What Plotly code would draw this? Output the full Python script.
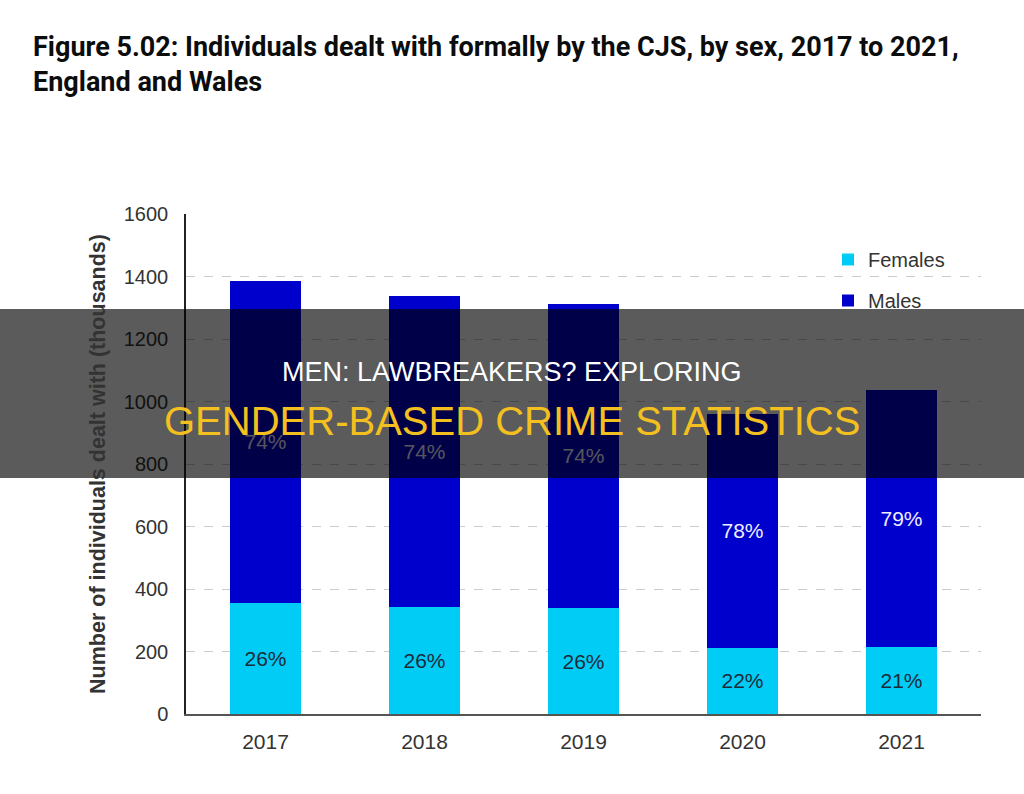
import plotly.graph_objects as go

years = ["2017", "2018", "2019", "2020", "2021"]
females = [356, 343, 339, 212, 215]
males = [1032, 997, 975, 750, 824]
female_pct = ["26%", "26%", "26%", "22%", "21%"]
male_pct = ["74%", "74%", "74%", "78%", "79%"]
y_ticks = [0, 200, 400, 600, 800, 1000, 1200, 1400, 1600]

FONT = "Liberation Sans, Arial, sans-serif"
W, H = 1024, 794
L, R, T, B = 186, 43, 214, 80
pw, ph = W - L - R, H - T - B

def px_x(x):
    return (x - L) / pw

def px_y(y):
    return (H - B - y) / ph

fig = go.Figure()
fig.add_trace(go.Bar(
    x=years, y=females, name="Females", legendgroup="f",
    marker=dict(color="#00CCF5", line=dict(width=0)),
    text=female_pct, textposition="inside", insidetextanchor="middle",
    textangle=0, constraintext="none",
    textfont=dict(family=FONT, size=21, color="#1c2a3a"),
))
fig.add_trace(go.Bar(
    x=years, y=males, name="Males", legendgroup="m",
    marker=dict(color="#0000CD", line=dict(width=0)),
    text=male_pct, textposition="inside", insidetextanchor="middle",
    textangle=0, constraintext="none",
    textfont=dict(family=FONT, size=21, color="#EEEEFF"),
))

fig.update_layout(
    width=W, height=H,
    margin=dict(l=L, r=R, t=T, b=B, autoexpand=False),
    paper_bgcolor="white", plot_bgcolor="white",
    barmode="stack", bargap=0.55,
    font=dict(family=FONT, color="#333333"),
    title=dict(
        text="<b>Figure 5.02: Individuals dealt with formally by the CJS, by sex, 2017 to 2021,<br>England and Wales</b>",
        xref="container", yref="container", x=33 / W, xanchor="left",
        y=1 - 56 / H, yanchor="top",
        font=dict(family="Roboto, Arial, sans-serif", size=27, color="#0b0c0c"),
    ),
    legend=dict(
        x=px_x(828), y=px_y(240), xanchor="left", yanchor="top",
        traceorder="grouped", tracegroupgap=12,
        font=dict(family=FONT, size=20, color="#333333"),
        bgcolor="rgba(0,0,0,0)", itemwidth=30,
    ),
    showlegend=True,
)

fig.update_xaxes(
    showline=True, linecolor="#555555", linewidth=1.5,
    ticks="", ticklabelstandoff=8,
    tickfont=dict(family=FONT, size=21, color="#333333"),
    showgrid=False,
)
fig.update_yaxes(
    range=[0, 1601], tickvals=y_ticks,
    showline=True, linecolor="#222222", linewidth=1.5,
    ticks="", ticklabelstandoff=12,
    tickfont=dict(family=FONT, size=20, color="#333333"),
    showgrid=True, gridcolor="#cccccc", griddash="dash", gridwidth=1,
    zeroline=False,
    title=dict(text="<b>Number of individuals dealt with (thousands)</b>",
               font=dict(family=FONT, size=21.5, color="#333333"), standoff=12),
)

# Dark overlay band with headline
fig.add_shape(type="rect", xref="paper", yref="paper",
              x0=px_x(-5), x1=px_x(W + 5), y0=px_y(478), y1=px_y(309),
              fillcolor="rgba(0,0,0,0.645)", line=dict(width=0), layer="above")
fig.add_annotation(text="MEN: LAWBREAKERS? EXPLORING", xref="paper", yref="paper",
                   x=px_x(512), y=px_y(372), showarrow=False,
                   xanchor="center", yanchor="middle",
                   font=dict(family=FONT, size=27, color="#FFFFFF"))
fig.add_annotation(text="GENDER-BASED CRIME STATISTICS", xref="paper", yref="paper",
                   x=px_x(512), y=px_y(421), showarrow=False,
                   xanchor="center", yanchor="middle",
                   font=dict(family=FONT, size=40, color="#F4C020"))

fig.write_html("out.html")
